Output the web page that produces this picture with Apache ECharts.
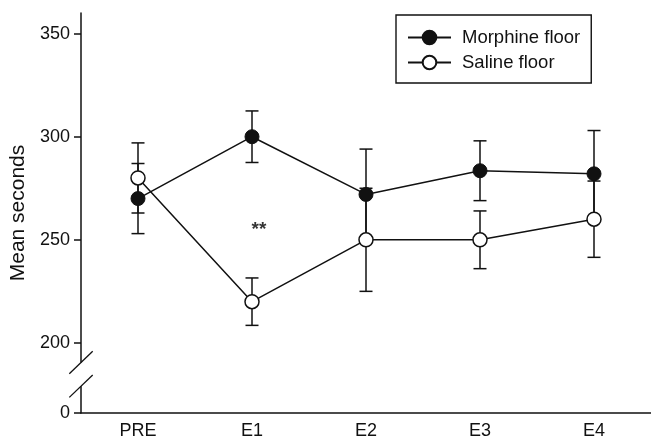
<!DOCTYPE html>
<html><head><meta charset="utf-8">
<script src="https://cdn.jsdelivr.net/npm/echarts@6/dist/echarts.min.js"></script>
<style>html,body{margin:0;padding:0;background:#fff}#c{width:651px;height:440px}</style>
</head><body><div id="c"></div>
<script>
const categories = ['PRE', 'E1', 'E2', 'E3', 'E4'];
const seriesNames = ['Morphine floor', 'Saline floor'];
const morphineMean = [270, 300, 272, 283.5, 282];
const morphineErr = [17, 12.5, 22, 14.5, 21];
const salineMean = [280, 220, 250, 250, 260];
const salineErr = [17, 11.5, 25, 14, 18.5];
const yTickValues = [200, 250, 300, 350];
const yBreakBase = 166;          // axis value at which the "0" (below the break) is drawn
const yBreakBaseLabel = '0';
const yMax = 360;
const breakMarkValues = [190.5, 179];
const annotationCategory = 'E1';
const annotationValue = 255;
const annotationText = '**';

const INK = '#111';
const FONT = "'Liberation Sans', Arial, Helvetica, sans-serif";
const gridLeft = 81, gridTop = 13, gridWidth = 574, gridHeight = 400;

function errData(mean, err) {
  return mean.map((m, i) => [i, m - err[i], m + err[i]]);
}
function errRender(params, api) {
  const x = api.value(0);
  const lo = api.coord([x, api.value(1)]);
  const hi = api.coord([x, api.value(2)]);
  const w = 6.5;
  const style = { stroke: INK, lineWidth: 1.5, fill: null };
  return { type: 'group', children: [
    { type: 'line', shape: { x1: lo[0], y1: lo[1], x2: hi[0], y2: hi[1] }, style },
    { type: 'line', shape: { x1: lo[0] - w, y1: lo[1], x2: lo[0] + w, y2: lo[1] }, style },
    { type: 'line', shape: { x1: hi[0] - w, y1: hi[1], x2: hi[0] + w, y2: hi[1] }, style }
  ]};
}

const chart = echarts.init(document.getElementById('c'), null, { renderer: 'canvas' });
const yCustom = [yBreakBase].concat(yTickValues);
chart.setOption({
  animation: false,
  backgroundColor: '#fff',
  textStyle: { fontFamily: FONT, color: INK },
  grid: { left: gridLeft, top: gridTop, width: gridWidth, height: gridHeight },
  legend: {
    data: seriesNames,
    orient: 'vertical',
    left: 396, top: 15,
    borderColor: INK, borderWidth: 1.4, borderRadius: 0,
    padding: [13, 11, 11, 11],
    itemGap: 6, itemWidth: 43, itemHeight: 17,
    textStyle: { fontFamily: FONT, fontSize: 18.5, color: INK, padding: [0, 0, 0, 6] }
  },
  xAxis: {
    type: 'category', data: categories, boundaryGap: true,
    axisLine: { lineStyle: { color: INK, width: 1.5 } },
    axisTick: { alignWithLabel: true, length: 6, lineStyle: { color: INK, width: 1.5 } },
    axisLabel: { fontSize: 18, color: INK, margin: 9, fontFamily: FONT },
    splitLine: { show: false }
  },
  yAxis: {
    type: 'value', min: yBreakBase, max: yMax,
    name: 'Mean seconds', nameLocation: 'middle', nameGap: 52,
    nameTextStyle: { fontSize: 21, color: INK, fontFamily: FONT },
    axisLine: { show: true, lineStyle: { color: INK, width: 1.5 } },
    axisTick: { show: true, length: 7, customValues: yCustom, lineStyle: { color: INK, width: 1.5 } },
    axisLabel: { fontSize: 18, color: INK, margin: 11, fontFamily: FONT, customValues: yCustom,
      formatter: v => (v === yBreakBase ? yBreakBaseLabel : String(v)) },
    splitLine: { show: false }
  },
  series: [
    { type: 'custom', name: 'morphErr', renderItem: errRender, data: errData(morphineMean, morphineErr),
      encode: { x: 0, y: [1, 2] }, z: 1, silent: true },
    { type: 'custom', name: 'salineErr', renderItem: errRender, data: errData(salineMean, salineErr),
      encode: { x: 0, y: [1, 2] }, z: 1, silent: true },
    { type: 'line', name: seriesNames[0], data: morphineMean, z: 3,
      symbol: 'circle', symbolSize: 14, showAllSymbol: true,
      lineStyle: { color: INK, width: 1.5 },
      itemStyle: { color: '#111', borderColor: '#111', borderWidth: 1 } },
    { type: 'line', name: seriesNames[1], data: salineMean, z: 4,
      symbol: 'circle', symbolSize: 14, showAllSymbol: true,
      lineStyle: { color: INK, width: 1.5 },
      itemStyle: { color: '#fff', borderColor: '#111', borderWidth: 1.5 } },
    { type: 'scatter', name: 'annotation', data: [[annotationCategory, annotationValue]],
      symbolSize: 0, silent: true, z: 5,
      label: { show: true, position: 'inside', formatter: annotationText, offset: [7, 0],
        fontSize: 19, fontWeight: 'bold', color: '#000', fontFamily: FONT } }
  ]
});

// axis-break decoration on the y axis line
const gfx = [];
const ys = breakMarkValues.map(v => chart.convertToPixel({ yAxisIndex: 0 }, v));
gfx.push({ type: 'rect', shape: { x: gridLeft - 2, y: ys[0], width: 4, height: ys[1] - ys[0] },
  style: { fill: '#fff' }, z: 100 });
ys.forEach(y => {
  gfx.push({ type: 'line', shape: { x1: gridLeft - 11.7, y1: y + 11.2, x2: gridLeft + 11.7, y2: y - 11.2 },
    style: { stroke: INK, lineWidth: 1.3 }, z: 101 });
});
chart.setOption({ graphic: gfx });
</script>
</body></html>
